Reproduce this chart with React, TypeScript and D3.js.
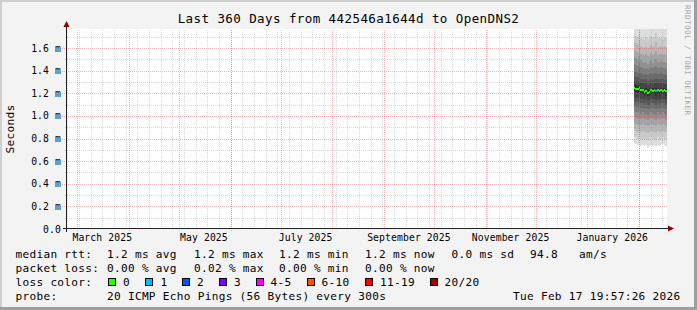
import React from 'react';
import * as d3 from 'd3';

// ---------- data ----------
const titleText = 'Last 360 Days from 442546a1644d to OpenDNS2';
const yAxisTitle = 'Seconds';
const watermark = 'RRDTOOL / TOBI OETIKER';

const rangeStart = new Date(2025, 1, 22, 19, 57, 26);
const rangeEnd = new Date(2026, 1, 17, 19, 57, 26);
const yMaxMs = 1.768;

const yMajorTicks = [0, 0.2, 0.4, 0.6, 0.8, 1.0, 1.2, 1.4, 1.6];
const yMajorLabels = ['0.0', '0.2 m', '0.4 m', '0.6 m', '0.8 m', '1.0 m', '1.2 m', '1.4 m', '1.6 m'];
const yMinorTicks = [0.1, 0.3, 0.5, 0.7, 0.9, 1.1, 1.3, 1.5, 1.7];

const xLabelMonths = [
  new Date(2025, 2, 1), new Date(2025, 4, 1), new Date(2025, 6, 1),
  new Date(2025, 8, 1), new Date(2025, 10, 1), new Date(2026, 0, 1),
];
const xLabels = ['March 2025', 'May 2025', 'July 2025', 'September 2025', 'November 2025', 'January 2026'];

// smoke data: one bucket per day, starting here
const dataStart = new Date(2026, 0, 28, 19, 57, 26);
const medianMs = [1.245, 1.24, 1.235, 1.25, 1.23, 1.225, 1.21, 1.22, 1.205, 1.215,
  1.225, 1.22, 1.225, 1.22, 1.225, 1.22, 1.225, 1.22, 1.225, 1.22];
const lossCount = [0, 0, 0, 0, 0, 0, 0, 0, 0, 0, 0, 0, 0, 1, 0, 0, 0, 0, 0, 0];
const pingsMs = [
  [0.76, 0.82, 0.88, 0.94, 0.99, 1.04, 1.09, 1.13, 1.17, 1.22, 1.27, 1.31, 1.35, 1.40, 1.46, 1.52, 1.58, 1.65, 1.72, 1.88],
  [0.75, 0.81, 0.87, 0.93, 0.98, 1.03, 1.08, 1.12, 1.16, 1.21, 1.27, 1.30, 1.34, 1.39, 1.45, 1.51, 1.57, 1.64, 1.71, 1.86],
  [0.74, 0.80, 0.86, 0.92, 0.97, 1.03, 1.08, 1.12, 1.16, 1.20, 1.26, 1.30, 1.34, 1.38, 1.44, 1.50, 1.56, 1.63, 1.70, 1.85],
  [0.75, 0.81, 0.87, 0.93, 0.98, 1.04, 1.09, 1.13, 1.17, 1.22, 1.28, 1.32, 1.36, 1.41, 1.47, 1.53, 1.60, 1.67, 1.74, 1.90],
  [0.73, 0.80, 0.86, 0.92, 0.97, 1.02, 1.07, 1.11, 1.15, 1.19, 1.25, 1.29, 1.33, 1.38, 1.43, 1.49, 1.55, 1.62, 1.69, 1.84],
  [0.74, 0.80, 0.87, 0.93, 0.98, 1.03, 1.07, 1.11, 1.15, 1.19, 1.25, 1.29, 1.33, 1.37, 1.42, 1.48, 1.54, 1.61, 1.68, 1.83],
  [0.73, 0.79, 0.85, 0.91, 0.96, 1.01, 1.06, 1.10, 1.14, 1.18, 1.24, 1.28, 1.32, 1.36, 1.41, 1.47, 1.53, 1.60, 1.67, 1.82],
  [0.74, 0.80, 0.86, 0.92, 0.97, 1.02, 1.07, 1.11, 1.15, 1.19, 1.25, 1.29, 1.33, 1.37, 1.42, 1.48, 1.55, 1.62, 1.70, 1.86],
  [0.72, 0.79, 0.85, 0.91, 0.96, 1.01, 1.06, 1.10, 1.14, 1.18, 1.24, 1.27, 1.31, 1.36, 1.41, 1.46, 1.53, 1.60, 1.68, 1.84],
  [0.73, 0.80, 0.86, 0.92, 0.97, 1.02, 1.06, 1.10, 1.14, 1.18, 1.24, 1.28, 1.32, 1.37, 1.42, 1.48, 1.54, 1.61, 1.69, 1.85],
  [0.74, 0.81, 0.87, 0.93, 0.98, 1.03, 1.07, 1.11, 1.15, 1.19, 1.25, 1.29, 1.33, 1.38, 1.43, 1.49, 1.56, 1.63, 1.71, 1.87],
  [0.73, 0.80, 0.86, 0.92, 0.97, 1.02, 1.07, 1.11, 1.15, 1.19, 1.25, 1.28, 1.32, 1.37, 1.42, 1.47, 1.54, 1.61, 1.69, 1.85],
  [0.74, 0.80, 0.86, 0.92, 0.97, 1.02, 1.07, 1.11, 1.15, 1.19, 1.25, 1.29, 1.33, 1.38, 1.43, 1.49, 1.55, 1.62, 1.70, 1.86],
  [0.73, 0.79, 0.85, 0.91, 0.96, 1.01, 1.06, 1.10, 1.14, 1.18, 1.25, 1.29, 1.33, 1.38, 1.44, 1.50, 1.57, 1.65, 1.73, 1.90],
  [0.74, 0.81, 0.87, 0.93, 0.98, 1.03, 1.07, 1.11, 1.15, 1.19, 1.25, 1.29, 1.33, 1.37, 1.42, 1.48, 1.54, 1.61, 1.69, 1.85],
  [0.73, 0.79, 0.85, 0.91, 0.96, 1.01, 1.06, 1.10, 1.14, 1.18, 1.24, 1.28, 1.32, 1.37, 1.42, 1.48, 1.55, 1.62, 1.70, 1.86],
  [0.74, 0.80, 0.86, 0.92, 0.97, 1.02, 1.07, 1.11, 1.15, 1.19, 1.25, 1.29, 1.33, 1.38, 1.43, 1.49, 1.55, 1.62, 1.69, 1.85],
  [0.75, 0.81, 0.87, 0.93, 0.98, 1.03, 1.07, 1.11, 1.15, 1.19, 1.25, 1.29, 1.33, 1.37, 1.42, 1.48, 1.54, 1.61, 1.68, 1.84],
  [0.74, 0.80, 0.86, 0.92, 0.97, 1.02, 1.07, 1.11, 1.15, 1.19, 1.25, 1.28, 1.32, 1.37, 1.42, 1.48, 1.55, 1.62, 1.70, 1.86],
  [0.73, 0.80, 0.86, 0.91, 0.96, 1.01, 1.06, 1.10, 1.14, 1.18, 1.24, 1.28, 1.32, 1.36, 1.41, 1.47, 1.54, 1.61, 1.69, 1.85],
];

// legend
const rttStats = ['1.2 ms avg', '1.2 ms max', '1.2 ms min', '1.2 ms now', '0.0 ms sd', '94.8', 'am/s'];
const lossStats = ['0.00 % avg', '0.02 % max', '0.00 % min', '0.00 % now'];
const lossLegendLabels = ['0', '1', '2', '3', '4-5', '6-10', '11-19', '20/20'];
const lossLegendMax = [0, 1, 2, 3, 5, 10, 19, 20];
const lossLegendColors = ['#26ff00', '#00b8ff', '#0059ff', '#7e00ff', '#ff00ff', '#ff5500', '#ff0000', '#a10000'];
const probeText = '20 ICMP Echo Pings (56 Bytes) every 300s';
const stampText = 'Tue Feb 17 19:57:26 2026';

// ---------- layout ----------
const W = 697;
const H = 310;
const X0 = 67;
const X1 = 667;
const Y0 = 229;
const YT = 29;
const MONO = '"DejaVu Sans Mono", monospace';

const statX = [107, 194, 279, 365, 451.5, 530, 579];
const lossBoxX = [108.5, 145.5, 182.5, 219.5, 256.5, 307.5, 365.5, 430.5];
const lossTextX = [123, 160.5, 197, 234, 270.5, 321.5, 380, 444.5];

function lossColor(n: number) {
  for (let i = 0; i < lossLegendMax.length; i++) if (n <= lossLegendMax[i]) return lossLegendColors[i];
  return lossLegendColors[lossLegendColors.length - 1];
}

export default function App() {
  const x = d3.scaleTime().domain([rangeStart, rangeEnd]).range([X0, X1]);
  const y = d3.scaleLinear().domain([0, yMaxMs]).range([Y0, YT]);

  const weeks = d3.timeWeek.range(rangeStart, rangeEnd);
  const months = d3.timeMonth.range(rangeStart, rangeEnd);

  const buckets = medianMs.map((_, i) => {
    const t0 = d3.timeDay.offset(dataStart, i);
    const t1 = d3.timeDay.offset(dataStart, i + 1);
    return { x0: Math.round(x(t0)), x1: Math.min(X1, Math.round(x(t1))) };
  });

  const half = 10;
  const smokeRects: React.ReactNode[] = [];
  for (let lvl = 1; lvl <= half; lvl++) {
    const c = Math.floor((190 / half) * (half - lvl)) + 50;
    const hex = c.toString(16).padStart(2, '0');
    const fill = `#${hex}${hex}${hex}`;
    pingsMs.forEach((row, i) => {
      const lo = row[lvl - 1];
      const hi = row[20 - lvl];
      const b = buckets[i];
      const yt = Math.round(y(hi));
      const yb = Math.round(y(lo));
      smokeRects.push(
        <rect key={`s${lvl}-${i}`} x={b.x0} width={b.x1 - b.x0} y={yt} height={yb - yt} fill={fill} />
      );
    });
  }

  const minorGrid = '#8a8a8a';
  const majorGrid = '#e04848';

  return (
    <svg width={W} height={H} viewBox={`0 0 ${W} ${H}`}
      style={{ position: 'absolute', left: 0, top: 0, display: 'block' }}
      fontFamily={MONO}>
      <defs>
        <clipPath id="plotClip">
          <rect x={X0} y={YT} width={X1 - X0} height={Y0 - YT} />
        </clipPath>
      </defs>
      {/* background with shading */}
      <rect x={0} y={0} width={W} height={H} fill="#f3f3f3" />
      <rect x={0} y={0} width={W} height={2} fill="#cfcfcf" />
      <rect x={0} y={0} width={2} height={H} fill="#cfcfcf" />
      <rect x={W - 3} y={0} width={3} height={H} fill="#9e9e9e" />
      <rect x={0} y={H - 3} width={W} height={3} fill="#9e9e9e" />

      {/* canvas */}
      <rect x={X0} y={YT} width={X1 - X0} height={Y0 - YT} fill="#ffffff" />

      {/* smoke */}
      <g clipPath="url(#plotClip)" shapeRendering="crispEdges">
        {smokeRects}
        {medianMs.map((m, i) => {
          const b = buckets[i];
          const yc = Math.round(y(m));
          return <rect key={`m${i}`} x={b.x0} width={b.x1 - b.x0} y={yc - 1} height={2} fill={lossColor(lossCount[i])} />;
        })}
      </g>

      {/* grid */}
      <g shapeRendering="crispEdges" strokeWidth={1} strokeDasharray="1,1">
        {weeks.map((t, i) => {
          const xx = Math.round(x(t)) + 0.5;
          return <line key={`wv${i}`} x1={xx} x2={xx} y1={Y0} y2={YT} stroke={minorGrid} strokeOpacity={0.33} />;
        })}
        {yMinorTicks.map((v, i) => {
          const yy = Math.round(y(v)) + 0.5;
          return <line key={`hm${i}`} x1={X0 - 2} x2={X1} y1={yy} y2={yy} stroke={minorGrid} strokeOpacity={0.33} />;
        })}
        {months.map((t, i) => {
          const xx = Math.round(x(t)) + 0.5;
          return <line key={`mv${i}`} x1={xx} x2={xx} y1={Y0 + 2} y2={YT} stroke={majorGrid} strokeOpacity={0.4} />;
        })}
        {yMajorTicks.slice(1).map((v, i) => {
          const yy = Math.round(y(v)) + 0.5;
          return <line key={`hM${i}`} x1={X0 - 5} x2={X1} y1={yy} y2={yy} stroke={majorGrid} strokeOpacity={0.4} />;
        })}
      </g>

      {/* axes */}
      <g shapeRendering="crispEdges">
        <line x1={X0 - 0.5} x2={X0 - 0.5} y1={Y0 + 3} y2={YT - 6} stroke="#222" />
        <line x1={X0 - 4} x2={X1 + 3} y1={Y0 - 0.5} y2={Y0 - 0.5} stroke="#222" />
      </g>
      <path d={`M${X0 - 3.5},${YT - 2} L${X0 + 2.5},${YT - 2} L${X0 - 0.5},${YT - 8} Z`} fill="#8b0000" />
      <path d={`M${X1 + 1},${Y0 - 3.5} L${X1 + 1},${Y0 + 2.5} L${X1 + 7},${Y0 - 0.5} Z`} fill="#8b0000" />

      {/* y labels */}
      {yMajorTicks.map((v, i) => (
        <text key={`yl${i}`} x={61} y={y(v) + 3.5} textAnchor="end" fontSize={9.72} letterSpacing={0.12} fill="#000">
          {yMajorLabels[i]}
        </text>
      ))}

      {/* x labels */}
      {xLabelMonths.map((t, i) => (
        <text key={`xl${i}`} x={x(d3.timeDay.offset(t, 15))} y={241} textAnchor="middle" fontSize={9.72} letterSpacing={0.12} fill="#000">
          {xLabels[i]}
        </text>
      ))}

      {/* title */}
      <text x={348.5} y={23} textAnchor="middle" fontSize={12.5} letterSpacing={0.42} fill="#000">{titleText}</text>

      {/* y title */}
      <text transform={`translate(13.5,${(Y0 + YT) / 2}) rotate(-90)`} textAnchor="middle" fontSize={11.1} letterSpacing={0.3} fill="#000">
        {yAxisTitle}
      </text>

      {/* watermark */}
      <text transform="translate(685,5) rotate(90)" fontSize={7.6} letterSpacing={0.45} fill="#a8a8a8">{watermark}</text>

      {/* legend */}
      <g fontSize={11.1} letterSpacing={0.3} fill="#000">
        <text x={15.5} y={258}>median rtt:</text>
        {rttStats.map((s, i) => <text key={`r${i}`} x={statX[i]} y={258}>{s}</text>)}
        <text x={15.5} y={272}>packet loss:</text>
        {lossStats.map((s, i) => <text key={`p${i}`} x={statX[i]} y={272}>{s}</text>)}
        <text x={15.5} y={286}>loss color:</text>
        {lossLegendLabels.map((s, i) => (
          <g key={`lc${i}`}>
            <rect x={lossBoxX[i]} y={278.5} width={7} height={7} fill={lossLegendColors[i]} stroke="#000" strokeWidth={1} shapeRendering="crispEdges" />
            <text x={lossTextX[i]} y={286}>{s}</text>
          </g>
        ))}
        <text x={15.5} y={300}>probe:</text>
        <text x={statX[0]} y={300}>{probeText}</text>
        <text x={513} y={300}>{stampText}</text>
      </g>
    </svg>
  );
}
